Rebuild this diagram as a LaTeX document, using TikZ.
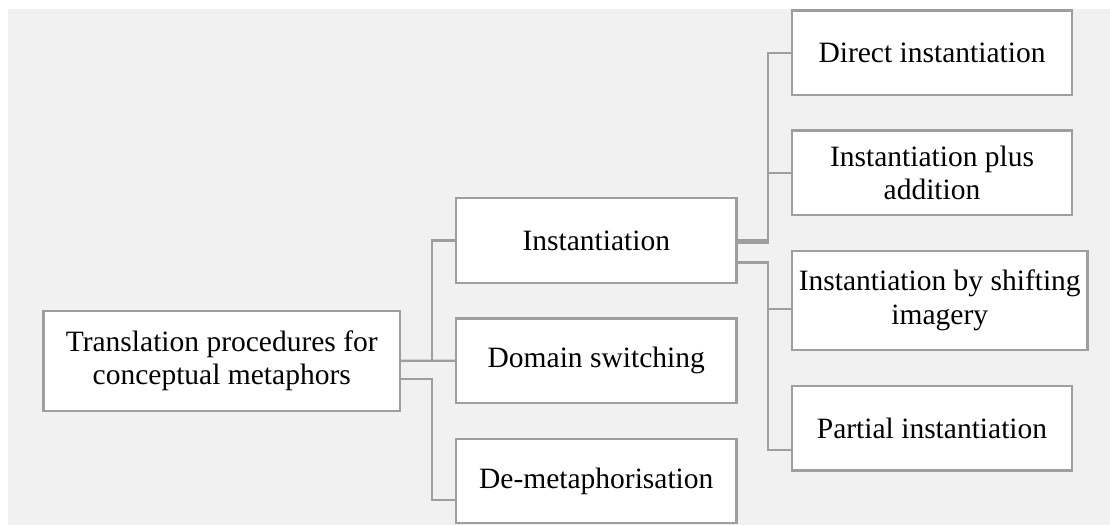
\documentclass[tikz,border=0pt]{standalone}
\usepackage{fontspec}
\setmainfont{Liberation Serif}
\usetikzlibrary{calc}
\definecolor{panel}{RGB}{241,241,241}
\definecolor{rule}{RGB}{158,158,158}
\begin{document}
\begin{tikzpicture}[x=1pt,y=-1pt,
  box/.style={draw=rule, fill=white, line width=2.3pt, inner sep=0pt,
    align=center, font=\fontsize{29.5}{33.5}\selectfont},
  link/.style={draw=rule, line width=2.3pt}]
  \useasboundingbox (0,0) rectangle (1110,525);
  \fill[panel] (8,9) rectangle (1110,525);

  % first level
  \node[box, minimum width=356.5pt, minimum height=100.3pt] (root) at (221.75,360.85)
    {Translation procedures for\\conceptual metaphors};
  \node[box, minimum width=280.5pt, minimum height=85pt] (inst) at (596.25,240.5) {Instantiation};
  \node[box, minimum width=280.5pt, minimum height=84.5pt] (domain) at (596.25,360.75) {Domain switching};
  \node[box, minimum width=280.5pt, minimum height=84pt] (demeta) at (596.25,481) {De-metaphorisation};

  % second level
  \node[box, minimum width=280pt, minimum height=84.5pt] (direct) at (932,52.75) {Direct instantiation};
  \node[box, minimum width=280pt, minimum height=84.5pt] (plus) at (932,172.75) {Instantiation plus\\addition};
  \node[box, minimum width=295.5pt, minimum height=99pt] (shift) at (939.75,300.5) {Instantiation by shifting\\imagery};
  \node[box, minimum width=280pt, minimum height=84.5pt] (partial) at (932,428.25) {Partial instantiation};

  % vertical buses
  \coordinate (busA) at (432,0);
  \coordinate (busB) at (768.3,0);

  % connectors from the root
  \draw[link] (root.east) -- (root.east -| busA) |- (inst.west);
  \draw[link] (root.east) -- (domain.west);
  \coordinate (rootlow) at ($(root.east)+(0,18)$);
  \coordinate (demetain) at ($(demeta.west)+(0,19)$);
  \draw[link] (rootlow) -- (rootlow -| busA) |- (demetain);

  % connectors from Instantiation
  \coordinate (insthi) at ($(inst.east)+(0,2.5)$);
  \coordinate (instlow) at ($(inst.east)+(0,22)$);
  \coordinate (shiftin) at ($(shift.west)+(0,8.8)$);
  \coordinate (partialin) at ($(partial.west)+(0,21.8)$);
  \draw[link] (inst.east) -- (inst.east -| busB) |- (direct.west);
  \draw[link] (insthi) -- (insthi -| busB) |- (plus.west);
  \draw[link] (instlow) -- (instlow -| busB) |- (shiftin);
  \draw[link] (instlow -| busB) |- (partialin);
\end{tikzpicture}
\end{document}
